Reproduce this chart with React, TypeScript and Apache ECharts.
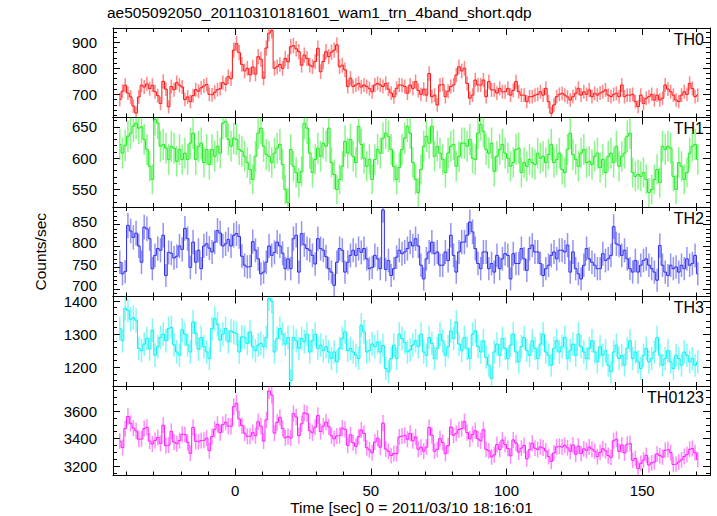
import React, { useEffect, useRef } from "react";
import * as echarts from "echarts";

// ---- data: 1-s bins, bin centres start at TIME_START ----
const TIME_START = -42.5;
const BIN_SIZE = 1;
const X_MIN = -45;
const X_MAX = 175;

const TH0 = [
  680, 712, 735, 705, 690, 655, 628, 690, 735, 728,
  740, 722, 735, 710, 695, 665, 750, 720, 652, 730,
  718, 745, 735, 728, 680, 690, 672, 695, 718, 712,
  725, 732, 738, 700, 698, 708, 718, 722, 745, 738,
  768, 760, 870, 895, 860, 815, 790, 800, 775, 805,
  778, 845, 835, 762, 878, 935, 945, 800, 806, 815,
  800, 838, 825, 883, 887, 875, 864, 812, 851, 838,
  812, 806, 826, 877, 787, 826, 864, 845, 862, 870,
  890, 806, 812, 794, 730, 762, 730, 736, 742, 728,
  736, 730, 722, 710, 736, 742, 736, 730, 742, 720,
  705, 690, 723, 736, 735, 730, 704, 736, 723, 749,
  715, 700, 720, 697, 780, 691, 697, 659, 736, 738,
  691, 712, 730, 736, 774, 806, 790, 800, 742, 685,
  697, 755, 736, 736, 755, 691, 749, 717, 717, 705,
  723, 710, 710, 723, 697, 715, 749, 710, 697, 697,
  672, 691, 691, 697, 700, 710, 697, 723, 672, 627,
  659, 691, 700, 704, 697, 690, 678, 691, 704, 723,
  697, 710, 700, 717, 691, 704, 697, 705, 710, 717,
  697, 691, 700, 704, 691, 736, 691, 697, 697, 700,
  672, 653, 697, 665, 685, 691, 700, 678, 697, 678,
  685, 736, 720, 710, 697, 678, 672, 697, 710, 700,
  742, 723, 691, 697,
];

const TH1 = [
  622, 608, 620, 635, 640, 651, 656, 648, 650, 630,
  614, 587, 566, 662, 656, 619, 622, 616, 598, 619,
  616, 595, 614, 598, 608, 598, 624, 640, 598, 619,
  624, 593, 614, 590, 614, 603, 619, 608, 656, 659,
  630, 619, 632, 630, 614, 611, 603, 593, 582, 566,
  603, 640, 648, 619, 606, 603, 593, 608, 616, 622,
  590, 550, 529, 614, 587, 577, 561, 579, 656, 648,
  608, 577, 598, 616, 603, 624, 619, 648, 593, 574,
  550, 566, 587, 627, 608, 630, 603, 593, 651, 622,
  600, 587, 598, 566, 598, 614, 608, 632, 640, 635,
  614, 587, 566, 585, 614, 632, 651, 640, 593, 566,
  545, 582, 619, 635, 624, 651, 603, 619, 608, 598,
  577, 608, 619, 622, 587, 603, 624, 624, 619, 630,
  600, 598, 640, 654, 643, 614, 608, 624, 579, 603,
  614, 622, 608, 600, 587, 593, 614, 616, 577, 593,
  587, 598, 593, 590, 608, 600, 603, 593, 606, 622,
  593, 598, 608, 582, 577, 614, 640, 606, 598, 587,
  608, 614, 593, 595, 590, 603, 608, 585, 598, 577,
  603, 608, 593, 619, 587, 603, 608, 635, 640, 577,
  571, 574, 571, 577, 566, 545, 550, 566, 582, 561,
  619, 614, 619, 616, 571, 550, 593, 587, 566, 577,
  608, 619, 622, 598,
];

const TH2 = [
  762, 735, 740, 848, 835, 820, 830, 800, 762, 844,
  840, 817, 747, 778, 794, 790, 825, 731, 785, 783,
  772, 776, 800, 792, 841, 817, 750, 809, 762, 790,
  747, 800, 805, 795, 786, 809, 836, 830, 800, 805,
  815, 800, 825, 829, 822, 776, 755, 751, 752, 810,
  790, 770, 735, 739, 762, 800, 778, 785, 809, 800,
  783, 747, 770, 747, 817, 825, 739, 829, 803, 794,
  790, 778, 758, 817, 794, 790, 775, 747, 739, 708,
  762, 794, 790, 739, 762, 778, 790, 778, 794, 785,
  794, 770, 747, 750, 778, 770, 747, 884, 745, 766,
  731, 747, 774, 790, 782, 786, 794, 809, 800, 817,
  800, 755, 723, 770, 786, 809, 782, 786, 755, 755,
  786, 766, 825, 778, 739, 786, 809, 809, 825, 856,
  833, 794, 759, 747, 786, 786, 747, 759, 739, 778,
  747, 770, 782, 778, 723, 782, 759, 759, 794, 770,
  743, 794, 802, 786, 786, 759, 731, 747, 755, 778,
  786, 770, 790, 790, 786, 802, 739, 786, 747, 735,
  723, 755, 794, 770, 762, 755, 747, 747, 782, 766,
  770, 778, 845, 805, 802, 778, 790, 770, 747, 739,
  766, 739, 755, 766, 770, 755, 747, 739, 720, 801,
  755, 739, 731, 755, 747, 751, 739, 755, 747, 770,
  755, 759, 778, 735,
];

const TH3 = [
  1317, 1280, 1378, 1372, 1345, 1350, 1342, 1257, 1250, 1270,
  1287, 1255, 1312, 1236, 1262, 1290, 1300, 1280, 1317, 1320,
  1268, 1246, 1236, 1313, 1300, 1267, 1246, 1337, 1302, 1254,
  1290, 1262, 1246, 1226, 1317, 1347, 1330, 1282, 1300, 1317,
  1277, 1310, 1305, 1302, 1246, 1292, 1290, 1272, 1307, 1262,
  1250, 1267, 1272, 1262, 1290, 1408, 1400, 1246, 1287, 1317,
  1300, 1270, 1290, 1160, 1290, 1280, 1257, 1287, 1277, 1300,
  1246, 1280, 1300, 1257, 1267, 1250, 1262, 1246, 1226, 1246,
  1216, 1257, 1287, 1307, 1250, 1257, 1246, 1236, 1226, 1327,
  1307, 1246, 1250, 1270, 1262, 1276, 1246, 1266, 1196, 1186,
  1226, 1267, 1226, 1300, 1287, 1275, 1246, 1252, 1267, 1280,
  1262, 1300, 1246, 1236, 1290, 1272, 1226, 1257, 1300, 1280,
  1236, 1262, 1310, 1287, 1337, 1270, 1250, 1290, 1257, 1226,
  1300, 1310, 1262, 1246, 1280, 1230, 1206, 1166, 1246, 1270,
  1236, 1287, 1257, 1226, 1267, 1300, 1246, 1216, 1262, 1290,
  1250, 1236, 1280, 1257, 1226, 1270, 1300, 1246, 1236, 1206,
  1257, 1280, 1246, 1262, 1290, 1226, 1250, 1270, 1236, 1300,
  1262, 1246, 1226, 1257, 1280, 1246, 1216, 1262, 1236, 1250,
  1206, 1186, 1246, 1267, 1226, 1236, 1206, 1257, 1280, 1226,
  1246, 1216, 1196, 1236, 1257, 1216, 1226, 1246, 1290, 1236,
  1206, 1226, 1250, 1216, 1196, 1236, 1226, 1206, 1246, 1236,
  1216, 1226, 1206, 1216,
];

const TH0123 = [
  3381, 3335, 3473, 3560, 3510, 3476, 3456, 3395, 3397, 3472,
  3481, 3381, 3360, 3386, 3407, 3364, 3497, 3347, 3352, 3452,
  3374, 3362, 3385, 3431, 3429, 3372, 3292, 3481, 3380, 3375,
  3386, 3387, 3403, 3311, 3415, 3467, 3503, 3442, 3501, 3519,
  3490, 3489, 3632, 3656, 3542, 3494, 3438, 3416, 3416, 3443,
  3421, 3522, 3490, 3382, 3536, 3746, 3716, 3439, 3518, 3554,
  3473, 3405, 3414, 3404, 3581, 3557, 3421, 3507, 3587, 3580,
  3456, 3441, 3482, 3567, 3451, 3490, 3520, 3486, 3420, 3398,
  3418, 3423, 3476, 3467, 3350, 3427, 3369, 3343, 3413, 3462,
  3437, 3333, 3317, 3296, 3374, 3402, 3337, 3512, 3323, 3307,
  3276, 3291, 3289, 3411, 3418, 3423, 3395, 3437, 3383, 3412,
  3322, 3337, 3308, 3338, 3480, 3423, 3308, 3321, 3399, 3371,
  3290, 3348, 3484, 3423, 3437, 3465, 3473, 3523, 3443, 3397,
  3430, 3457, 3397, 3383, 3464, 3321, 3310, 3266, 3281, 3356,
  3320, 3389, 3357, 3327, 3274, 3390, 3368, 3301, 3330, 3350,
  3252, 3319, 3366, 3330, 3320, 3339, 3331, 3309, 3269, 3233,
  3295, 3339, 3344, 3338, 3350, 3332, 3307, 3353, 3285, 3345,
  3290, 3325, 3313, 3339, 3323, 3308, 3268, 3299, 3326, 3310,
  3276, 3263, 3384, 3395, 3306, 3353, 3295, 3359, 3364, 3242,
  3255, 3182, 3219, 3244, 3278, 3207, 3223, 3229, 3289, 3276,
  3265, 3315, 3320, 3297, 3211, 3215, 3230, 3245, 3269, 3283,
  3321, 3327, 3297, 3246,
];

const PANEL_NAMES = ["TH0", "TH1", "TH2", "TH3", "TH0123"];
const PANEL_VALUES = [TH0, TH1, TH2, TH3, TH0123];
const PANEL_MIN = [611, 522, 682, 1143, 3131];
const PANEL_MAX = [955, 665, 891, 1414, 3782];
const PANEL_SPLIT = [3, 3, 4, 2, 4];
const PANEL_MINOR = [5, 5, 5, 5, 4];
const PANEL_COLOR = ["#ff1010", "#18ec18", "#2a2af0", "#00f2f2", "#ff18ff"];
// vertical nudge of the tick labels (px, up) per panel, as QDP draws them
const LABEL_LIFT = [0, 0, 6, 0, 0];

const TITLE = "ae505092050_20110310181601_wam1_trn_4band_short.qdp";
const X_TITLE = "Time [sec] 0 = 2011/03/10 18:16:01";
const Y_TITLE = "Counts/sec";

// ---- layout ----
const W = 717;
const H = 516;
const GRID_LEFT = 113;
const GRID_W = 597;
const PANEL_TOP = 28;
const PANEL_H = 89.5;
const FONT = "'Liberation Sans', Arial, Helvetica, sans-serif";

function buildOption() {
  const grid: any[] = [];
  const xAxis: any[] = [];
  const yAxis: any[] = [];
  const series: any[] = [];
  const graphic: any[] = [];
  const black = { color: "#000", width: 1 };

  PANEL_NAMES.forEach((name, k) => {
    const isLast = k === PANEL_NAMES.length - 1;
    const top = PANEL_TOP + k * PANEL_H;
    grid.push({ left: GRID_LEFT, top, width: GRID_W, height: PANEL_H });

    const baseX = {
      type: "value",
      gridIndex: k,
      min: X_MIN,
      max: X_MAX,
      splitNumber: 5,
      axisLine: { show: true, onZero: false, lineStyle: black },
      axisTick: { show: true, inside: true, length: 7, lineStyle: black },
      minorTick: { show: true, splitNumber: 5, length: 4, lineStyle: black },
      splitLine: { show: false },
      minorSplitLine: { show: false },
    };
    xAxis.push({
      ...baseX,
      position: "bottom",
      axisLabel: {
        show: isLast,
        color: "#000",
        fontFamily: FONT,
        fontSize: 15,
        margin: 7,
        showMinLabel: false,
        showMaxLabel: false,
        formatter: (v: number) => String(v),
      },
    });
    xAxis.push({ ...baseX, position: "top", axisLabel: { show: false } });

    const baseY = {
      type: "value",
      gridIndex: k,
      min: PANEL_MIN[k],
      max: PANEL_MAX[k],
      splitNumber: PANEL_SPLIT[k],
      axisLine: { show: true, onZero: false, lineStyle: black },
      axisTick: { show: true, inside: true, length: 7, lineStyle: black },
      minorTick: { show: true, splitNumber: PANEL_MINOR[k], length: 4, lineStyle: black },
      splitLine: { show: false },
      minorSplitLine: { show: false },
    };
    const lift = LABEL_LIFT[k];
    yAxis.push({
      ...baseY,
      position: "left",
      axisLabel: {
        show: true,
        color: "#000",
        fontFamily: FONT,
        fontSize: 15,
        margin: 16,
        showMinLabel: false,
        showMaxLabel: false,
        formatter: (v: number) => (lift ? `{s|${v}}` : String(v)),
        rich: {
          s: {
            color: "#000",
            fontFamily: FONT,
            fontSize: 15,
            padding: [0, 0, lift, 0],
          },
        },
      },
    });
    yAxis.push({ ...baseY, position: "right", axisLabel: { show: false } });

    const values = PANEL_VALUES[k];
    const color = PANEL_COLOR[k];
    const lo = PANEL_MIN[k];
    const hi = PANEL_MAX[k];
    const pts = values.map((v, i) => [TIME_START + i * BIN_SIZE, v]);
    const errPts = values.map((v, i) => [TIME_START + i * BIN_SIZE, v, Math.sqrt(v)]);

    series.push({
      type: "custom",
      xAxisIndex: 2 * k,
      yAxisIndex: 2 * k,
      data: errPts,
      encode: { x: 0, y: 1 },
      z: 2,
      silent: true,
      renderItem: (_p: any, api: any) => {
        const t = api.value(0);
        const v = api.value(1);
        const e = api.value(2);
        const a = api.coord([t, Math.min(hi, v + e)]);
        const b = api.coord([t, Math.max(lo, v - e)]);
        return {
          type: "line",
          shape: { x1: a[0], y1: a[1], x2: b[0], y2: b[1] },
          style: { stroke: color, lineWidth: 1.5, opacity: 0.5 },
        };
      },
    });
    series.push({
      type: "line",
      xAxisIndex: 2 * k,
      yAxisIndex: 2 * k,
      data: pts,
      step: "middle",
      symbol: "none",
      showSymbol: false,
      clip: true,
      z: 3,
      silent: true,
      lineStyle: { color, width: 1 },
    });

    graphic.push({
      type: "text",
      right: W - 704,
      top: top + 3,
      style: {
        text: name,
        font: `16px ${FONT}`,
        fill: "#000",
      },
    });
  });

  graphic.push({
    type: "text",
    left: 107,
    top: 4,
    style: { text: TITLE, font: `15.5px ${FONT}`, fill: "#000" },
  });
  graphic.push({
    type: "text",
    x: GRID_LEFT + GRID_W / 2,
    y: 507,
    style: {
      text: X_TITLE,
      font: `15.5px ${FONT}`,
      fill: "#000",
      textAlign: "center",
      textVerticalAlign: "middle",
    },
  });
  graphic.push({
    type: "text",
    x: 40,
    y: PANEL_TOP + (5 * PANEL_H) / 2,
    rotation: Math.PI / 2,
    style: {
      text: Y_TITLE,
      font: `15.5px ${FONT}`,
      fill: "#000",
      textAlign: "center",
      textVerticalAlign: "middle",
    },
  });

  return {
    animation: false,
    backgroundColor: "#fff",
    grid,
    xAxis,
    yAxis,
    series,
    graphic,
  };
}

export default function App() {
  const ref = useRef<HTMLDivElement>(null);
  useEffect(() => {
    if (!ref.current) return;
    const chart = echarts.init(ref.current, null, { renderer: "svg" });
    chart.setOption(buildOption() as any);
    return () => chart.dispose();
  }, []);
  return (
    <div
      ref={ref}
      style={{ position: "fixed", left: 0, top: 0, width: W, height: H }}
    />
  );
}
